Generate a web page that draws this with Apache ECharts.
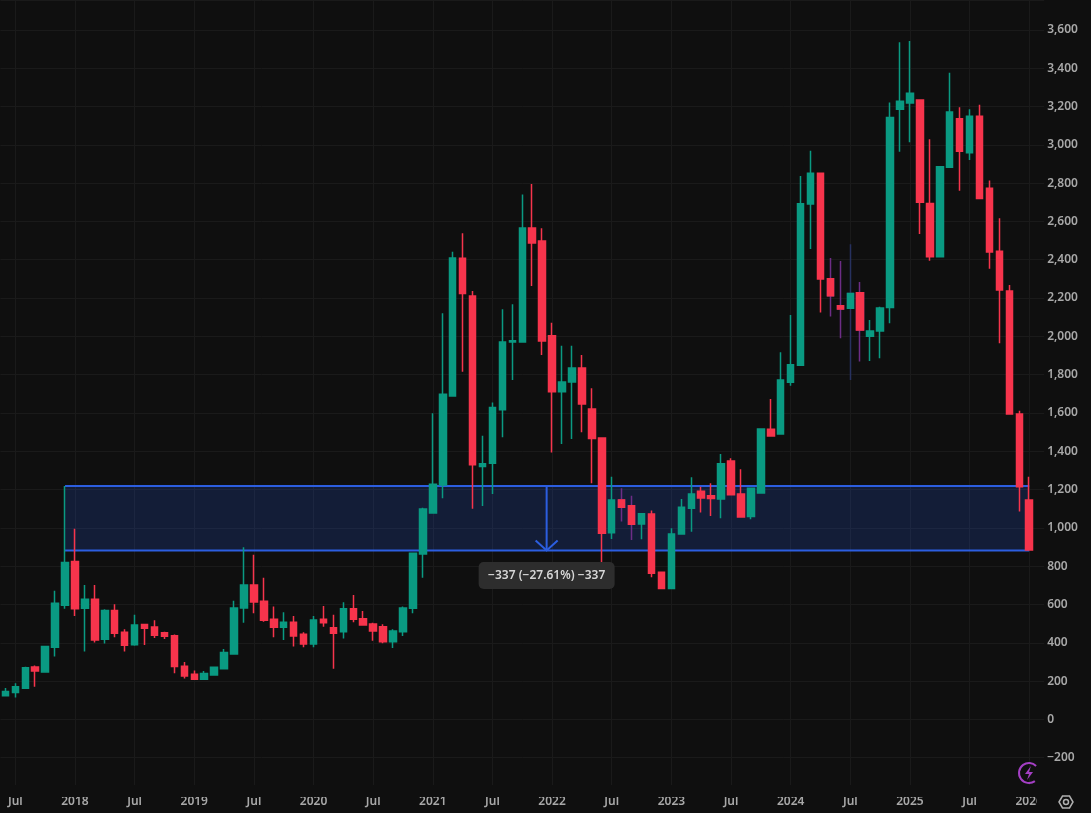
<!DOCTYPE html>
<html><head><meta charset="utf-8">
<style>html,body{margin:0;padding:0;background:#0f0f0f}#c{width:1091px;height:813px}</style>
<script src="https://cdn.jsdelivr.net/npm/echarts@6/dist/echarts.min.js"></script>
</head><body><div id="c"></div>
<script>
// Months, one per candle; the trailing month is an empty slot to the right of the last candle.
const firstYear = 2017, firstMonth = 6, monthCount = 105;
const months = [];
for (let i = 0; i < monthCount; i++) {
  const m = firstMonth - 1 + i;
  months.push((firstYear + Math.floor(m / 12)) + '-' + String(m % 12 + 1).padStart(2, '0'));
}
// Each candle: open, close, low, high
const candles2017 = [[124,145,120,164],[140,170,114,189],[163,270,160,275],[274,253,170,281],[248,380,248,380],[377,607,328,672],[596,819,577,1219]];
const candles2018 = [[824,578,540,995],[580,627,354,702],[627,415,401,702],[419,568,396,575],[568,450,429,601],[455,387,354,471],[390,493,385,546],[495,476,389,498],[483,439,425,518],[452,434,420,457],[437,276,241,443],[278,227,213,299]];
const candles2019 = [[236,210,208,255],[210,239,208,253],[232,272,232,275],[264,349,262,368],[342,582,342,620],[582,702,505,899],[702,613,554,859],[617,518,510,740],[523,481,429,589],[481,507,415,560],[507,436,380,540],[445,393,377,455]];
const candles2020 = [[393,519,377,540],[523,505,484,592],[479,450,264,546],[457,577,422,612],[578,523,507,650],[526,493,493,566],[498,462,410,504],[484,405,398,497],[405,462,373,471],[457,582,436,589],[580,868,554,868],[864,1099,740,1105]];
const candles2021 = [[1078,1228,1078,1598],[1224,1698,1155,2120],[1689,2409,1689,2442],[2407,2223,1815,2538],[2211,1329,1100,2237],[1320,1335,1114,1481],[1337,1628,1177,1654],[1616,1971,1473,2141],[1970,1977,1772,2167],[1971,2566,1971,2741],[2566,2487,2263,2795],[2498,1976,1903,2564]];
const candles2022 = [[2003,1710,1393,2071],[1710,1762,1438,1951],[1762,1835,1464,1951],[1835,1647,1499,1903],[1621,1466,1233,1729],[1469,972,815,1469],[975,1146,942,1267],[1146,1108,1033,1207],[1116,1019,937,1167],[1020,1074,940,1074],[1073,763,742,1090],[768,683,683,768]];
const candles2023 = [[683,968,683,998],[968,1108,968,1151],[1102,1177,980,1264],[1191,1156,1080,1215],[1168,1153,1062,1233],[1151,1335,1050,1386],[1349,1173,1173,1363],[1177,1057,1054,1306],[1059,1207,1045,1210],[1182,1516,1178,1516],[1515,1480,1480,1673],[1490,1772,1490,1917]];
const candles2024 = [[1760,1851,1742,2111],[1849,2692,1849,2837],[2691,2851,2456,2969],[2851,2299,2125,2851],[2301,2212,2103,2409],[2160,2143,1990,2393],[2146,2223,1772,2481],[2228,2033,1868,2284],[2000,2028,1871,2085],[2028,2148,1885,2155],[2150,3143,2068,3221],[3185,3228,2964,3535]];
const candles2025 = [[3218,3269,3013,3542],[3234,2700,2534,3234],[2694,2416,2395,3029],[2416,2886,2416,2886],[2883,3171,2880,3376],[3136,2966,2760,3196],[2959,3149,2921,3185],[3149,2719,2719,3209],[2773,2440,2353,2813],[2444,2242,1964,2616],[2237,1595,1595,2268],[1595,1215,1085,1612]];
const candles2026 = [[1146,885,880,1267]];
const candles = [].concat(candles2017,candles2018,candles2019,candles2020,candles2021,candles2022,candles2023,candles2024,candles2025,candles2026);
// Candles whose wick is tinted
const purpleWicks = [62,63,83,84,86];
const navyWicks = [85];
// Price axis
const priceMin = -400, priceMax = 3756, priceStep = 200;
// Measure tool
const measureFrom = 6, measureTo = 103, measureTop = 1219, measureBottom = 882;
const measureText = '\u2212337 (\u221227.61%) \u2212337';

const UP = '#0a9a82', DOWN = '#f7344c', BG = '#0f0f0f', GRID = '#1a1a1a', TXT = '#a8a8a8', BLUE = '#2c5ee0';
const PX_PER_MONTH = 9.94, GRID_LEFT = 0.43;

const tintOf = i => purpleWicks.includes(i) ? '#6d2d86' : navyWicks.includes(i) ? '#27315f' : null;
const candleData = candles.map((c, i) => {
  const tint = tintOf(i);
  return tint ? { value: c, itemStyle: { borderColor: tint, borderColor0: tint } } : c;
});
// Tinted candles keep a clean body: their body is redrawn without a wick on top.
const bodyOverlay = candles.map((c, i) => tintOf(i) ? [c[0], c[1], Math.min(c[0], c[1]), Math.max(c[0], c[1])] : '-');
const isTick = i => { const m = months[i].slice(5); return m === '01' || m === '07'; };
const font = '"Noto Sans", "Open Sans", sans-serif';
const candleStyle = { color: UP, color0: DOWN, borderColor: UP, borderColor0: DOWN, borderWidth: 1.5 };

const chart = echarts.init(document.getElementById('c'), null, { renderer: 'canvas' });
chart.setOption({
  animation: false,
  backgroundColor: BG,
  grid: { left: GRID_LEFT, width: PX_PER_MONTH * monthCount, top: 0, height: 796, containLabel: false },
  xAxis: [{
    type: 'category', data: months, boundaryGap: true,
    axisLine: { show: false }, axisTick: { show: false, alignWithLabel: true, interval: (i) => isTick(i) },
    axisLabel: { interval: (i) => isTick(i), margin: 0, color: TXT, fontFamily: font, fontSize: 12, fontWeight: 600,
      formatter: (v) => v.endsWith('-01') ? v.slice(0, 4) : 'Jul' },
    splitLine: { show: true, alignWithLabel: true, interval: (i) => isTick(i), lineStyle: { color: GRID, width: 1 } }
  }, {
    type: 'value', min: -0.5, max: monthCount - 0.5, show: false, splitLine: { show: false }
  }],
  yAxis: {
    type: 'value', position: 'right', min: priceMin, max: priceMax, interval: priceStep,
    axisLine: { show: false }, axisTick: { show: false },
    axisLabel: { inside: false, margin: 3, padding: [2, 0, 0, 0], color: TXT, fontFamily: font, fontSize: 12, fontWeight: 600,
      formatter: (v) => (v === priceMin || v === priceMax) ? '' : String(v).replace('-', '\u2212').replace(/\B(?=(\d{3})+$)/, ',') },
    splitLine: { show: true, lineStyle: { color: GRID, width: 1 } }
  },
  series: [{
    type: 'custom', xAxisIndex: 1, yAxisIndex: 0, z: 1, silent: true, clip: false,
    data: [[measureFrom, measureTo, measureTop, measureBottom]],
    renderItem: (p, api) => {
      const [x0, yT] = api.coord([api.value(0), api.value(2)]);
      const [x1, yB] = api.coord([api.value(1), api.value(3)]);
      const xm = (x0 + x1) / 2 - 0.5;
      const ln = { stroke: BLUE, lineWidth: 2, fill: null };
      return { type: 'group', children: [
        { type: 'rect', shape: { x: x0, y: yT, width: x1 - x0, height: yB - yT }, style: { fill: 'rgba(41,98,255,0.17)' } },
        { type: 'line', shape: { x1: x0, y1: yT, x2: x1, y2: yT }, style: ln },
        { type: 'line', shape: { x1: x0, y1: yB, x2: x1, y2: yB }, style: ln },
        { type: 'line', shape: { x1: xm, y1: yT, x2: xm, y2: yB }, style: ln },
        { type: 'polyline', shape: { points: [[xm - 11, yB - 10], [xm, yB], [xm + 11, yB - 10]] }, style: ln }
      ]};
    }
  }, {
    type: 'candlestick', xAxisIndex: 0, yAxisIndex: 0, z: 2, data: candleData, barWidth: 7, silent: true,
    itemStyle: candleStyle
  }, {
    type: 'candlestick', xAxisIndex: 0, yAxisIndex: 0, z: 2, data: bodyOverlay, barWidth: 7, silent: true,
    itemStyle: candleStyle
  }, {
    type: 'custom', xAxisIndex: 1, yAxisIndex: 0, z: 3, silent: true, clip: false,
    data: [[(measureFrom + measureTo) / 2, measureBottom]],
    renderItem: (p, api) => {
      const [x, y] = api.coord([api.value(0), api.value(1)]);
      const cy = y + 25, w = 136, h = 27;
      return { type: 'group', children: [
        { type: 'rect', shape: { x: x - w / 2 - 0.5, y: cy - h / 2, width: w, height: h, r: 5 }, style: { fill: '#2d2d2d' } },
        { type: 'text', style: { x: x - 0.5, y: cy, text: measureText, fill: '#d6d6d6', font: '600 12px ' + font, align: 'center', verticalAlign: 'middle' } }
      ]};
    }
  }],
  graphic: [
    { type: 'rect', z: 50, shape: { x: 0, y: 785, width: 1091, height: 12 }, style: { fill: BG } },
    { type: 'rect', z: 50, shape: { x: 1037, y: 788, width: 54, height: 25 }, style: { fill: BG } },
    { type: 'arc', z: 51, shape: { cx: 1029, cy: 773, r: 10, startAngle: Math.PI * 0.3, endAngle: Math.PI * 1.75 }, style: { stroke: '#a43fc4', lineWidth: 2, fill: null } },
    { type: 'polygon', z: 51, shape: { points: [[1031, 766], [1025, 774], [1029, 774], [1027, 780], [1033, 772], [1029, 772]] }, style: { fill: '#a43fc4' } },
    { type: 'polygon', z: 51, shape: { points: [[1059, 802], [1062.5, 796], [1069.5, 796], [1073, 802], [1069.5, 808], [1062.5, 808]] }, style: { stroke: '#b0b0b0', lineWidth: 1.5, fill: null } },
    { type: 'circle', z: 51, shape: { cx: 1066, cy: 802, r: 2.5 }, style: { stroke: '#b0b0b0', lineWidth: 1.5, fill: null } }
  ]
});
</script></body></html>
